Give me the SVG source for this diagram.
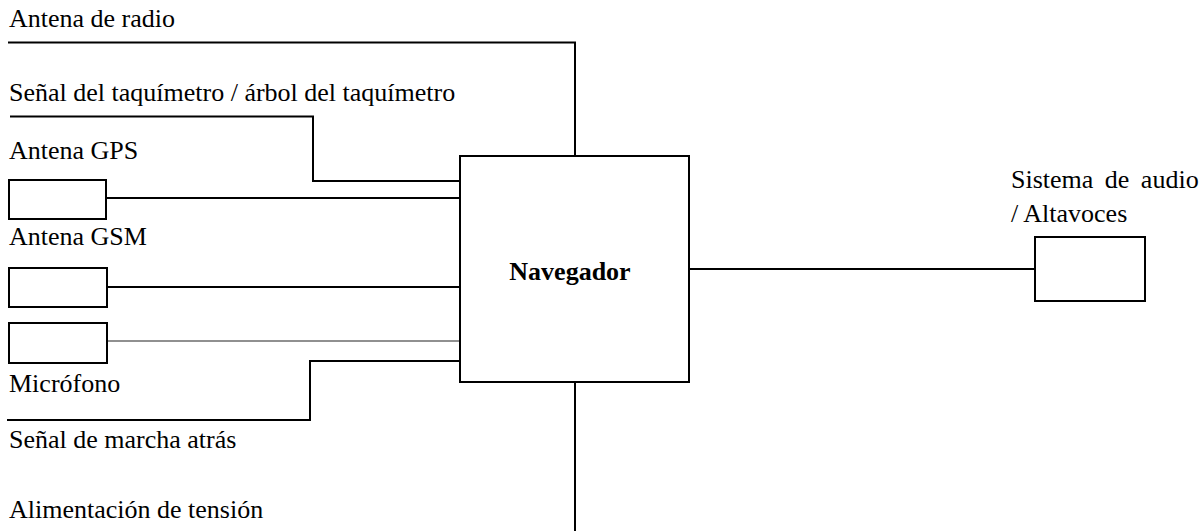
<svg xmlns="http://www.w3.org/2000/svg" width="1200" height="531" viewBox="0 0 1200 531">
<style>
text{font-family:"Liberation Serif","Times New Roman",serif;font-size:26px;fill:#000}
.b{font-weight:bold}
.box{fill:#fff;stroke:#000;stroke-width:2}
.ln{fill:none;stroke:#000;stroke-width:2}
.thin{fill:none;stroke:#222;stroke-width:1.2}
</style>
<rect width="1200" height="531" fill="#fff"/>
<g id="connectors">
<polyline class="ln" points="8,42.5 575,42.5 575,156"/>
<polyline class="ln" points="10,116.5 313,116.5 313,181 460,181"/>
<line class="ln" x1="106" y1="198" x2="460" y2="198"/>
<line class="ln" x1="107" y1="287" x2="460" y2="287"/>
<line class="thin" x1="107" y1="341" x2="460" y2="341"/>
<polyline class="ln" points="7,420 310,420 310,361 460,361"/>
<line class="ln" x1="575" y1="381" x2="575" y2="531"/>
<line class="ln" x1="689" y1="269" x2="1035" y2="269"/>
</g>
<g id="label-radio"><text x="9" y="27">Antena de radio</text></g>
<g id="label-tacho"><text x="9" y="101">Señal del taquímetro / árbol del taquímetro</text></g>
<g id="gps"><text x="9" y="159">Antena GPS</text><rect class="box" x="9" y="180" width="97" height="39"/></g>
<g id="gsm"><text x="9" y="245">Antena GSM</text><rect class="box" x="9" y="268" width="98" height="39"/></g>
<g id="mic"><rect class="box" x="9" y="323" width="98" height="40"/><text x="9" y="392">Micrófono</text></g>
<g id="label-reverse"><text x="9" y="448">Señal de marcha atrás</text></g>
<g id="label-power"><text x="9" y="518">Alimentación de tensión</text></g>
<g id="navegador"><rect class="box" x="460" y="156" width="229" height="226"/><text class="b" x="570" y="280" text-anchor="middle">Navegador</text></g>
<g id="audio"><text x="1011" y="188" word-spacing="5">Sistema de audio</text><text x="1011" y="222">/ Altavoces</text><rect class="box" x="1035" y="237" width="110" height="64"/></g>
</svg>
